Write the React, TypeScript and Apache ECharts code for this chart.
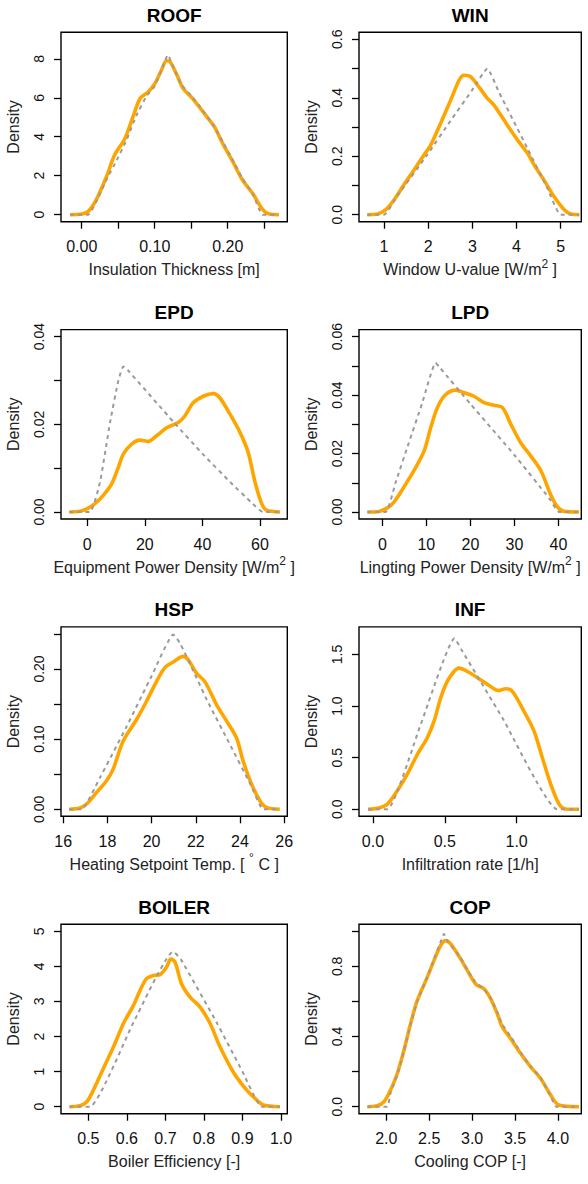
import React, { useEffect, useRef } from "react";
import * as echarts from "echarts";

// ---------- data ----------
const panelTitles = ["ROOF", "WIN", "EPD", "LPD", "HSP", "INF", "BOILER", "COP"];
const xNames = [
  "{n|Insulation Thickness [m]}",
  "{n|Window U-value [W/m}{sup|2}{n| ]}",
  "{n|Equipment Power Density [W/m}{sup|2}{n| ]}",
  "{n|Lingting Power Density [W/m}{sup|2}{n| ]}",
  "{n|Heating Setpoint Temp. [ }{sup|°}{n| C ]}",
  "{n|Infiltration rate [1/h]}",
  "{n|Boiler Efficiency [-]}",
  "{n|Cooling COP [-]}",
];

const roofOrange = [[-0.016,0],[0,0.03],[0.009,0.17],[0.02,0.77],[0.034,1.96],[0.045,3.06],[0.059,3.9],[0.07,5.0],[0.08,5.96],[0.091,6.3],[0.1,6.72],[0.109,7.4],[0.116,7.9],[0.12,7.88],[0.13,7.2],[0.139,6.47],[0.15,6.04],[0.161,5.53],[0.173,4.94],[0.182,4.5],[0.193,3.66],[0.207,2.72],[0.22,1.79],[0.234,1.1],[0.248,0.26],[0.257,0.03],[0.27,0]];
const roofGray = [[-0.016,0],[0.009,0],[0.02,0.68],[0.034,1.8],[0.048,2.8],[0.061,3.8],[0.075,5.1],[0.089,6.1],[0.1,6.6],[0.111,7.6],[0.118,8.2],[0.125,7.6],[0.136,6.7],[0.15,6.1],[0.161,5.6],[0.18,4.6],[0.193,3.75],[0.207,2.8],[0.22,1.87],[0.234,1.1],[0.248,0],[0.27,0]];

const winOrange = [[0.62,0],[0.85,0.002],[1.04,0.017],[1.23,0.051],[1.45,0.102],[1.68,0.153],[1.91,0.205],[2.06,0.239],[2.28,0.312],[2.51,0.392],[2.7,0.46],[2.81,0.477],[2.96,0.472],[3.15,0.437],[3.34,0.398],[3.49,0.375],[3.79,0.307],[4.02,0.256],[4.25,0.21],[4.4,0.17],[4.62,0.119],[4.85,0.062],[5.08,0.017],[5.23,0.002],[5.42,0]];
const winGray = [[0.62,0],[1.0,0],[1.3,0.064],[1.98,0.205],[2.5,0.32],[3.0,0.427],[3.34,0.5],[3.6,0.42],[4.25,0.226],[4.7,0.09],[5.0,0],[5.42,0]];

const epdOrange = [[-6.25,0],[-2.5,0.00015],[0,0.00075],[2.66,0.0019],[5.56,0.0038],[8.46,0.0064],[10.8,0.0102],[12.5,0.0132],[15.4,0.0155],[18.3,0.0164],[21.2,0.0161],[24.1,0.0174],[27.6,0.0192],[31.6,0.0204],[33.9,0.0219],[36.8,0.0249],[40.3,0.0264],[43.8,0.027],[46.1,0.026],[49.6,0.0223],[53.1,0.0181],[55.9,0.0136],[58.3,0.0068],[60.6,0.0019],[62.3,0.0004],[67,0]];
const epdGray = [[-6.25,0],[0.9,0],[4.4,0.0068],[7.9,0.0204],[10.8,0.03],[12.5,0.0332],[14,0.0324],[30,0.0205],[40,0.0133],[50,0.0066],[57,0.0022],[61,0],[67,0]];

const lpdOrange = [[-3.4,0],[-0.76,0.0002],[1.14,0.0014],[2.65,0.0034],[4.9,0.0085],[7.2,0.0142],[9.5,0.0209],[11.0,0.0289],[12.5,0.0357],[14.4,0.0402],[16.7,0.0417],[18.6,0.0408],[20.8,0.0396],[23.1,0.0374],[25.4,0.0365],[27.3,0.0357],[29.2,0.03],[31.4,0.0238],[33.7,0.0192],[36.0,0.0142],[38.3,0.0057],[39.8,0.0017],[41.3,0.0002],[44.7,0]];
const lpdGray = [[-3.4,0],[0.76,0],[3,0.01],[6,0.0236],[9,0.037],[12.1,0.051],[13,0.0495],[20,0.037],[30,0.0195],[38,0.0045],[40.2,0],[44.7,0]];

const hspOrange = [[16.27,0],[16.75,0.0019],[17.06,0.0076],[17.51,0.024],[17.96,0.0406],[18.26,0.0572],[18.71,0.097],[19.32,0.128],[19.77,0.154],[20.22,0.182],[20.6,0.202],[20.98,0.21],[21.43,0.218],[21.66,0.213],[22.03,0.194],[22.41,0.182],[22.94,0.149],[23.39,0.126],[23.84,0.102],[24.14,0.069],[24.52,0.036],[24.9,0.0123],[25.2,0.0028],[25.8,0]];
const hspGray = [[16.27,0],[16.83,0],[17.66,0.045],[18.87,0.118],[20.0,0.19],[20.98,0.249],[21.3,0.236],[22.5,0.156],[23.5,0.095],[24.5,0.034],[25.05,0],[25.8,0]];

const infOrange = [[-0.035,0],[0.03,0.01],[0.1,0.051],[0.169,0.18],[0.239,0.34],[0.309,0.533],[0.378,0.694],[0.425,0.854],[0.471,1.079],[0.517,1.24],[0.564,1.336],[0.599,1.368],[0.657,1.336],[0.749,1.256],[0.819,1.19],[0.877,1.15],[0.923,1.169],[0.97,1.143],[1.051,0.95],[1.121,0.758],[1.179,0.5],[1.237,0.244],[1.295,0.051],[1.341,0.003],[1.434,0]];
const infGray = [[-0.035,0],[0.1,0],[0.332,0.822],[0.568,1.657],[0.62,1.537],[0.9,0.888],[1.283,0],[1.434,0]];

const boilerOrange = [[0.451,0],[0.478,0.03],[0.496,0.14],[0.513,0.47],[0.539,1.09],[0.565,1.7],[0.591,2.37],[0.617,2.89],[0.634,3.31],[0.651,3.65],[0.669,3.74],[0.687,3.77],[0.703,3.98],[0.714,4.21],[0.725,4.12],[0.742,3.5],[0.764,3.125],[0.79,2.84],[0.816,2.37],[0.842,1.7],[0.876,0.99],[0.911,0.47],[0.937,0.19],[0.954,0.05],[0.997,0]];
const boilerGray = [[0.451,0],[0.504,0],[0.617,2.4],[0.72,4.42],[0.74,4.2],[0.833,2.4],[0.9,1.0],[0.95,0],[0.997,0]];

const copOrange = [[1.78,0],[1.895,0.006],[1.973,0.028],[2.05,0.095],[2.128,0.189],[2.206,0.322],[2.283,0.473],[2.361,0.606],[2.478,0.739],[2.555,0.833],[2.633,0.919],[2.691,0.947],[2.75,0.928],[2.866,0.843],[2.944,0.777],[3.04,0.7],[3.138,0.672],[3.215,0.616],[3.293,0.53],[3.351,0.455],[3.449,0.388],[3.565,0.303],[3.682,0.227],[3.798,0.161],[3.915,0.066],[4.01,0.0095],[4.245,0]];
const copGray = [[1.78,0],[2.01,0],[2.05,0.08],[2.128,0.18],[2.206,0.32],[2.283,0.47],[2.361,0.6],[2.478,0.74],[2.555,0.84],[2.633,0.94],[2.672,0.985],[2.72,0.94],[2.866,0.85],[2.944,0.78],[3.04,0.71],[3.138,0.67],[3.215,0.62],[3.293,0.54],[3.351,0.47],[3.449,0.4],[3.565,0.31],[3.682,0.23],[3.798,0.165],[3.915,0.06],[3.98,0],[4.245,0]];

const orangeSeries = [roofOrange, winOrange, epdOrange, lpdOrange, hspOrange, infOrange, boilerOrange, copOrange];
const graySeries = [roofGray, winGray, epdGray, lpdGray, hspGray, infGray, boilerGray, copGray];

// axis ranges (data units)
const xRanges = [[-0.0284,0.2816],[0.434,5.467],[-9.14,69.5],[-5.3,45.2],[15.9,26.14],[-0.0974,1.45],[0.429,1.0163],[1.682,4.272]];
const yLims = [[0,9],[0,0.6],[0,0.04],[0,0.06],[0,0.25],[0,1.7],[0,5],[0,1]];

// ticks and labels
const xTicks = [[0,0.05,0.1,0.15,0.2,0.25],[1,2,3,4,5],[0,20,40,60],[0,10,20,30,40],[16,18,20,22,24,26],[0,0.5,1.0],[0.5,0.6,0.7,0.8,0.9,1.0],[2,2.5,3,3.5,4]];
const xLabels = [[0,0.1,0.2],[1,2,3,4,5],[0,20,40,60],[0,10,20,30,40],[16,18,20,22,24,26],[0,0.5,1.0],[0.5,0.6,0.7,0.8,0.9,1.0],[2,2.5,3,3.5,4]];
const xDecimals = [2,0,0,0,0,1,1,1];
const yTicks = [[0,2,4,6,8],[0,0.1,0.2,0.3,0.4,0.5,0.6],[0,0.01,0.02,0.03,0.04],[0,0.01,0.02,0.03,0.04,0.05,0.06],[0,0.05,0.1,0.15,0.2,0.25],[0,0.5,1.0,1.5],[0,1,2,3,4,5],[0,0.2,0.4,0.6,0.8,1.0]];
const yLabels = [[0,2,4,6,8],[0,0.2,0.4,0.6],[0,0.02,0.04],[0,0.02,0.04,0.06],[0,0.1,0.2],[0,0.5,1.0,1.5],[0,1,2,3,4,5],[0,0.4,0.8]];
const yDecimals = [0,1,2,2,2,1,0,1];

// ---------- layout ----------
const colLeft = [61, 359];
const colWidth = [226.3, 222.3];
const rowTop = [32.3, 329.6, 626.9, 924.3];
const boxHeight = 189.4;

const FONT = "'Liberation Sans', Arial, Helvetica, sans-serif";

export default function App() {
  const ref = useRef<HTMLDivElement>(null);
  useEffect(() => {
    document.body.style.margin = "0";
    if (!ref.current) return;
    const chart = echarts.init(ref.current, null, { renderer: "svg" });

    const grids: any[] = [];
    const xAxes: any[] = [];
    const yAxes: any[] = [];
    const series: any[] = [];
    const graphics: any[] = [];

    for (let i = 0; i < 8; i++) {
      const c = i % 2;
      const r = Math.floor(i / 2);
      const left = colLeft[c];
      const width = colWidth[c];
      const top = rowTop[r];
      grids.push({
        left, top, width, height: boxHeight,
        show: true, borderColor: "#000", borderWidth: 1.4, backgroundColor: "transparent",
        containLabel: false,
      });
      const yl = yLims[i];
      const ext = (yl[1] - yl[0]) * 0.04;
      const xd = xDecimals[i];
      const yd = yDecimals[i];
      xAxes.push({
        type: "value", gridIndex: i, position: "bottom",
        min: xRanges[i][0], max: xRanges[i][1],
        axisLine: { show: false, onZero: false },
        splitLine: { show: false },
        axisTick: { show: true, inside: false, length: 7, customValues: xTicks[i], lineStyle: { color: "#000", width: 1.3 } },
        axisLabel: {
          show: true, customValues: xLabels[i], margin: 17,
          fontSize: 16, color: "#111", fontFamily: FONT,
          formatter: (v: number) => v.toFixed(xd),
        },
        name: xNames[i], nameLocation: "middle", nameGap: 36,
        nameTextStyle: {
          fontSize: 16, color: "#222", fontFamily: FONT,
          rich: {
            n: { fontSize: 16, lineHeight: 20, verticalAlign: "bottom", color: "#222", fontFamily: FONT },
            sup: { fontSize: 12, lineHeight: 12, verticalAlign: "top", color: "#222", fontFamily: FONT },
          },
        },
      });
      yAxes.push({
        type: "value", gridIndex: i, position: "left",
        min: yl[0] - ext, max: yl[1] + ext,
        axisLine: { show: false, onZero: false },
        splitLine: { show: false },
        axisTick: { show: true, inside: false, length: 7, customValues: yTicks[i], lineStyle: { color: "#000", width: 1.3 } },
        axisLabel: {
          show: true, customValues: yLabels[i], margin: 15, rotate: 90,
          fontSize: 14, color: "#111", fontFamily: FONT,
          formatter: (v: number) => v.toFixed(yd),
        },
        name: "Density", nameLocation: "middle", nameGap: 40, nameRotate: 90,
        nameTextStyle: { fontSize: 16, color: "#222", fontFamily: FONT },
      });
      series.push({
        type: "line", xAxisIndex: i, yAxisIndex: i, data: orangeSeries[i],
        showSymbol: false, symbol: "none", smooth: 0.3,
        lineStyle: { color: "#FFA500", width: 3.6 }, z: 2,
      });
      series.push({
        type: "line", xAxisIndex: i, yAxisIndex: i, data: graySeries[i],
        showSymbol: false, symbol: "none", smooth: 0.15,
        lineStyle: { color: "#9a9a9a", width: 2, type: [4, 4] }, z: 3,
      });
      graphics.push({
        type: "text",
        x: left + width / 2, y: top - 17,
        style: {
          text: panelTitles[i], fontSize: 19, fontWeight: "bold", fill: "#000",
          fontFamily: FONT, align: "center", verticalAlign: "middle",
          textAlign: "center", textVerticalAlign: "middle",
        },
      });
    }

    chart.setOption({
      animation: false,
      backgroundColor: "#fff",
      grid: grids,
      xAxis: xAxes,
      yAxis: yAxes,
      series,
      graphic: graphics,
    });
    return () => chart.dispose();
  }, []);
  return <div ref={ref} style={{ width: 588, height: 1184 }} />;
}
